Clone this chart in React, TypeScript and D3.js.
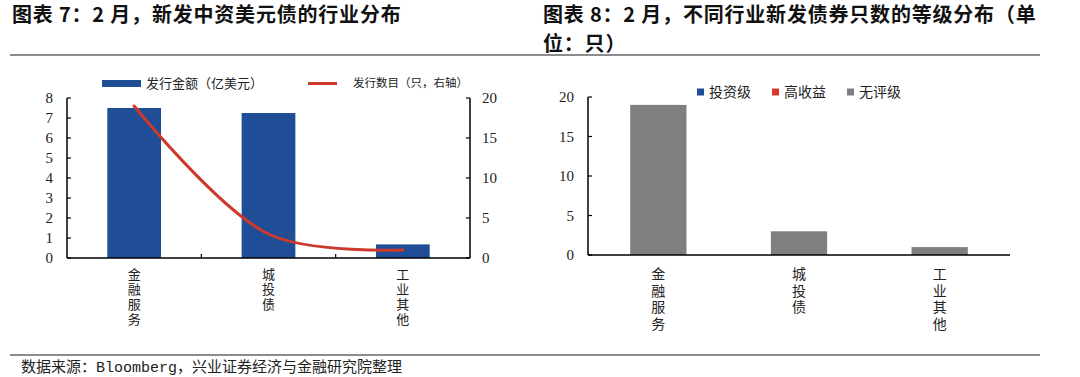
import React from 'react';
import * as d3 from 'd3';

const categories = ['金融服务', '城投债', '工业其他'];
const amountValues = [7.5, 7.25, 0.68]; // 发行金额（亿美元）
const countValues = [19, 3, 1]; // 发行数目（只，右轴）
const leftTicks = [0, 1, 2, 3, 4, 5, 6, 7, 8];
const rightTicks = [0, 5, 10, 15, 20];

const gradeKeys = ['投资级', '高收益', '无评级'];
const investmentGrade = [0, 0, 0];
const highYield = [0, 0, 0];
const unrated = [19, 3, 1];
const gradeTicks = [0, 5, 10, 15, 20];

const BLUE = '#1f4e96';
const RED = '#cc3a2e';
const gradeColors = ['#1f4e96', '#d63a2f', '#7f7f7f'];

const SERIF = "'Liberation Serif', 'Times New Roman', serif";
const CJK = "'Noto Sans CJK SC', sans-serif";

function VerticalLabel({ text, x, y, size, spacing }: { text: string; x: number; y: number; size: number; spacing: number }) {
  return (
    <text
      x={x}
      y={y}
      fontSize={size}
      fontFamily={CJK}
      fill="#222"
      style={{ writingMode: 'vertical-rl', textOrientation: 'upright', letterSpacing: `${spacing}px` } as any}
    >
      {text}
    </text>
  );
}

export default function App() {
  // ---------- Left chart ----------
  const xL = d3.scaleBand<string>().domain(categories).range([67, 470]).paddingInner(0.6).paddingOuter(0.3);
  const yL = d3.scaleLinear().domain([0, 8]).range([258, 98]);
  const yR = d3.scaleLinear().domain([0, 20]).range([258, 98]);
  const stepL = xL.step();
  const lineGen = d3
    .line<number>()
    .x((_, i) => (xL(categories[i]) as number) + xL.bandwidth() / 2)
    .y((d) => yR(d))
    .curve(d3.curveCatmullRom.alpha(0.5));

  // ---------- Right chart ----------
  const xG = d3.scaleBand<string>().domain(categories).range([588, 1010]).paddingInner(0.6).paddingOuter(0.3);
  const yG = d3.scaleLinear().domain([0, 20]).range([255, 97]);
  const gradeRows = categories.map((c, i) => ({
    cat: c,
    投资级: investmentGrade[i],
    高收益: highYield[i],
    无评级: unrated[i],
  }));
  const stacked = d3.stack<any>().keys(gradeKeys)(gradeRows);

  const legendG = [
    { key: '投资级', sx: 697, tx: 709 },
    { key: '高收益', sx: 772, tx: 784 },
    { key: '无评级', sx: 847, tx: 859 },
  ];

  const titleStyle = { letterSpacing: '0.8px' };

  return (
    <svg
      width={1080}
      height={377}
      style={{ position: 'absolute', left: 0, top: 0, background: '#fff' }}
      xmlns="http://www.w3.org/2000/svg"
    >
      <rect x={0} y={0} width={1080} height={377} fill="#fff" />
      {/* Titles */}
      <text x={12} y={22} fontSize={20} fontWeight={700} fontFamily={CJK} fill="#111" style={titleStyle}>
        图表 7：2 月，新发中资美元债的行业分布
      </text>
      <text x={543} y={22} fontSize={20} fontWeight={700} fontFamily={CJK} fill="#111" style={titleStyle}>
        图表 8：2 月，不同行业新发债券只数的等级分布（单
      </text>
      <text x={543} y={51} fontSize={20} fontWeight={700} fontFamily={CJK} fill="#111" style={titleStyle}>
        位：只）
      </text>
      <line x1={10} x2={1040} y1={55} y2={55} stroke="#666" strokeWidth={1.5} />

      {/* ---------- Left chart ---------- */}
      <rect x={102} y={80} width={39} height={7} fill={BLUE} />
      <text x={146} y={88} fontSize={13} fontFamily={CJK} fill="#222">
        发行金额（亿美元）
      </text>
      <line x1={308} x2={337} y1={83.5} y2={83.5} stroke={RED} strokeWidth={3} />
      <text x={353} y={87} fontSize={11.5} fontFamily={CJK} fill="#222">
        发行数目（只，右轴）
      </text>

      {categories.map((c, i) => (
        <rect
          key={c}
          x={xL(c)}
          y={yL(amountValues[i])}
          width={xL.bandwidth()}
          height={yL(0) - yL(amountValues[i])}
          fill={BLUE}
        />
      ))}
      <path d={lineGen(countValues) || ''} fill="none" stroke={RED} strokeWidth={3} strokeLinecap="round" />

      {/* left axis */}
      <line x1={67} x2={67} y1={yL(8)} y2={yL(0)} stroke="#000" strokeWidth={1.5} />
      {leftTicks.map((t) => (
        <g key={t}>
          <line x1={67} x2={71} y1={yL(t)} y2={yL(t)} stroke="#000" strokeWidth={1.2} />
          <text x={53} y={yL(t) + 5} fontSize={15} fontFamily={SERIF} textAnchor="end" fill="#222">
            {t}
          </text>
        </g>
      ))}
      {/* right axis */}
      <line x1={470} x2={470} y1={yR(20)} y2={yR(0)} stroke="#000" strokeWidth={1.5} />
      {rightTicks.map((t) => (
        <g key={t}>
          <line x1={466} x2={470} y1={yR(t)} y2={yR(t)} stroke="#000" strokeWidth={1.2} />
          <text x={482} y={yR(t) + 5} fontSize={15} fontFamily={SERIF} textAnchor="start" fill="#222">
            {t}
          </text>
        </g>
      ))}
      {/* x axis */}
      <line x1={67} x2={470} y1={258} y2={258} stroke="#000" strokeWidth={1.5} />
      {[1, 2].map((i) => (
        <line key={i} x1={67 + stepL * i} x2={67 + stepL * i} y1={258} y2={254} stroke="#000" strokeWidth={1.2} />
      ))}
      {categories.map((c) => (
        <VerticalLabel key={c} text={c} x={(xL(c) as number) + xL.bandwidth() / 2} y={268} size={13} spacing={1.7} />
      ))}

      {/* ---------- Right chart ---------- */}
      {legendG.map((l, i) => (
        <g key={l.key}>
          <rect x={l.sx} y={88.5} width={7} height={7} fill={gradeColors[i]} />
          <text x={l.tx} y={97} fontSize={14} fontFamily={CJK} fill="#222">
            {l.key}
          </text>
        </g>
      ))}
      {stacked.map((s, si) =>
        s.map((d, i) => (
          <rect
            key={`${si}-${i}`}
            x={xG(categories[i])}
            y={yG(d[1])}
            width={xG.bandwidth()}
            height={Math.max(0, yG(d[0]) - yG(d[1]))}
            fill={gradeColors[si]}
          />
        ))
      )}
      <line x1={588} x2={588} y1={yG(20)} y2={yG(0)} stroke="#000" strokeWidth={1.5} />
      {gradeTicks.map((t) => (
        <g key={t}>
          <line x1={588} x2={592} y1={yG(t)} y2={yG(t)} stroke="#000" strokeWidth={1.2} />
          <text x={574} y={yG(t) + 5} fontSize={15} fontFamily={SERIF} textAnchor="end" fill="#222">
            {t}
          </text>
        </g>
      ))}
      <line x1={588} x2={1010} y1={255} y2={255} stroke="#000" strokeWidth={1.5} />
      {categories.map((c) => (
        <VerticalLabel key={c} text={c} x={(xG(c) as number) + xG.bandwidth() / 2} y={267} size={14} spacing={2.5} />
      ))}

      {/* Footer */}
      <line x1={10} x2={1040} y1={355} y2={355} stroke="#666" strokeWidth={1.5} />
      <text x={21} y={372} fontSize={15} fontFamily={"'Liberation Mono', 'Noto Sans CJK SC', monospace"} fill="#222">
        数据来源：Bloomberg，兴业证券经济与金融研究院整理
      </text>
    </svg>
  );
}
